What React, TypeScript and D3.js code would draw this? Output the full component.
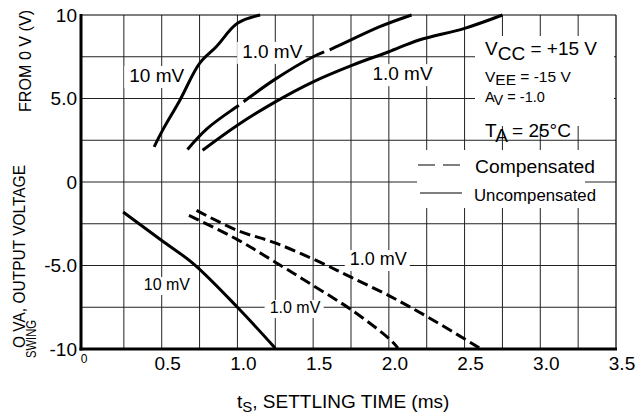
import React, { useEffect, useRef } from "react";
import * as d3 from "d3";

const W = 642;
const H = 415;
const FONT = "'Liberation Sans', Arial, Helvetica, sans-serif";

// axis ticks
const xTicks = [0.5, 1.0, 1.5, 2.0, 2.5, 3.0, 3.5];
const xTickLabels = ["0.5", "1.0", "1.5", "2.0", "2.5", "3.0", "3.5"];
const yTicks = [10, 5, 0, -5, -10];
const yTickLabels = ["10", "5.0", "0", "-5.0", "-10"];

// settling time (ms) vs output swing (V)
const up10mV_t = [0.45, 0.5, 0.62, 0.75, 0.86, 1.0, 1.15];
const up10mV_v = [2.1, 3.0, 4.9, 7.1, 8.1, 9.5, 10.0];

const upComp1mV_t = [0.67, 0.8, 1.02, 1.24, 1.5, 1.63, 1.94, 2.15];
const upComp1mV_v = [1.95, 3.2, 4.67, 6.1, 7.5, 8.0, 9.3, 10.0];

const upUncomp1mV_t = [0.77, 1.0, 1.25, 1.5, 1.76, 2.0, 2.2, 2.5, 2.75];
const upUncomp1mV_v = [1.9, 3.4, 4.8, 6.0, 7.0, 7.8, 8.5, 9.2, 10.0];

const lo10mV_t = [0.245, 0.5, 0.71, 1.0, 1.25];
const lo10mV_v = [-1.8, -3.5, -4.9, -7.5, -9.95];

const loCompA_t = [0.73, 1.0, 1.25, 1.545, 1.75, 2.0, 2.26, 2.6];
const loCompA_v = [-1.7, -2.9, -3.65, -4.8, -5.7, -6.8, -8.1, -9.95];

const loCompB_t = [0.68, 1.0, 1.25, 1.5, 1.76, 2.01, 2.06];
const loCompB_v = [-2.0, -3.45, -4.8, -6.2, -7.7, -9.45, -9.95];

const seriesNames = ["up10mV", "upComp1mV", "upUncomp1mV", "lo10mV", "loCompA", "loCompB"];
const seriesT = [up10mV_t, upComp1mV_t, upUncomp1mV_t, lo10mV_t, loCompA_t, loCompB_t];
const seriesV = [up10mV_v, upComp1mV_v, upUncomp1mV_v, lo10mV_v, loCompA_v, loCompB_v];
const seriesKind = ["solid", "long", "solid", "solid", "short", "short"];

// curve labels (data coords of text centre / baseline)
const labelText = ["10 mV", "1.0 mV", "1.0 mV", "1.0 mV", "1.0 mV", "10 mV"];
const labelT = [0.467, 1.23, 2.09, 1.93, 1.38, 0.534];
const labelV = [5.99, 7.43, 6.1, -4.97, -7.84, -6.47];
const labelSize = [19, 19, 19, 18, 16, 16];

export default function App() {
  const ref = useRef<SVGSVGElement | null>(null);

  useEffect(() => {
    const svg = d3.select(ref.current);
    svg.selectAll("*").remove();

    const x = d3.scaleLinear().domain([0, 3.5]).range([86, 616]);
    const y = d3.scaleLinear().domain([-10, 10]).range([349, 15]);
    const L = 81, R = 616, T = 15, B = 349;

    const gGrid = svg.append("g");
    const gBoxes = svg.append("g");
    const gCurves = svg.append("g");
    const gAxes = svg.append("g");
    const gText = svg.append("g").attr("font-family", FONT).attr("fill", "#000");

    // grid
    d3.range(0.25, 3.5, 0.25).forEach((v) => {
      gGrid.append("line").attr("x1", x(v)).attr("x2", x(v)).attr("y1", T).attr("y2", B)
        .attr("stroke", "#222").attr("stroke-width", 1);
    });
    d3.range(-7.5, 10, 2.5).forEach((v) => {
      gGrid.append("line").attr("x1", L).attr("x2", R).attr("y1", y(v)).attr("y2", y(v))
        .attr("stroke", "#222").attr("stroke-width", 1);
    });
    gGrid.append("line").attr("x1", L).attr("x2", R).attr("y1", y(10)).attr("y2", y(10))
      .attr("stroke", "#000").attr("stroke-width", 1.2);
    gGrid.append("line").attr("x1", x(3.5)).attr("x2", x(3.5)).attr("y1", T).attr("y2", B)
      .attr("stroke", "#000").attr("stroke-width", 1.2);

    // white boxes for annotation and legend
    gBoxes.append("rect").attr("x", 475).attr("y", 36).attr("width", 139).attr("height", 90).attr("fill", "#fff");
    gBoxes.append("rect").attr("x", 417).attr("y", 150).attr("width", 168).attr("height", 58).attr("fill", "#fff");

    // curves
    const line = d3.line<[number, number]>()
      .x((d) => x(d[0])).y((d) => y(d[1]))
      .curve(d3.curveCatmullRom.alpha(0.5));
    seriesNames.forEach((name, i) => {
      const pts: [number, number][] = seriesT[i].map((t, j) => [t, seriesV[i][j]]);
      const p = gCurves.append("path").attr("d", line(pts) as string)
        .attr("fill", "none").attr("stroke", "#000").attr("stroke-width", 3)
        .attr("stroke-linejoin", "round").attr("data-name", name);
      if (seriesKind[i] === "long") p.attr("stroke-dasharray", "95 6").attr("stroke-dashoffset", 27);
      if (seriesKind[i] === "short") p.attr("stroke-dasharray", "11 5");
    });

    // axes
    gAxes.append("line").attr("x1", L).attr("x2", L).attr("y1", T - 1).attr("y2", B + 1.5)
      .attr("stroke", "#000").attr("stroke-width", 3);
    gAxes.append("line").attr("x1", L - 1.5).attr("x2", R + 1).attr("y1", B).attr("y2", B)
      .attr("stroke", "#000").attr("stroke-width", 3);

    // tick labels
    xTicks.forEach((v, i) => {
      gText.append("text").attr("x", x(v) + 6).attr("y", 370).attr("text-anchor", "middle")
        .attr("font-size", 19).text(xTickLabels[i]);
    });
    gText.append("text").attr("x", x(0) - 2).attr("y", 363).attr("text-anchor", "middle")
      .attr("font-size", 12).text("0");
    yTicks.forEach((v, i) => {
      gText.append("text").attr("x", 77).attr("y", y(v)).attr("dy", "0.35em")
        .attr("text-anchor", "end").attr("font-size", 19).text(yTickLabels[i]);
    });

    // axis titles
    const xt = gText.append("text").attr("x", 237).attr("y", 408).attr("font-size", 19);
    xt.append("tspan").text("t");
    xt.append("tspan").attr("font-size", 15).attr("dy", 4).text("S");
    xt.append("tspan").attr("dy", -4).text(", SETTLING TIME (ms)");

    gText.append("text").attr("transform", "translate(31,112) rotate(-90)").attr("font-size", 16)
      .attr("textLength", 102).attr("lengthAdjust", "spacingAndGlyphs").text("FROM 0 V (V)");
    gText.append("text").attr("transform", "translate(25,348) rotate(-90)").attr("font-size", 16)
      .attr("textLength", 183).attr("lengthAdjust", "spacingAndGlyphs").text("O VA, OUTPUT VOLTAGE");
    gText.append("text").attr("transform", "translate(36,358) rotate(-90)").attr("font-size", 15)
      .attr("textLength", 38).attr("lengthAdjust", "spacingAndGlyphs").text("SWING");

    // curve labels with white boxes
    labelText.forEach((s, i) => {
      const t = gText.append("text").attr("x", x(labelT[i])).attr("y", y(labelV[i]))
        .attr("text-anchor", "middle").attr("font-size", labelSize[i]).text(s);
      const bb = (t.node() as SVGTextElement).getBBox();
      gBoxes.append("rect").attr("x", bb.x - 5).attr("y", bb.y + 1).attr("width", bb.width + 8)
        .attr("height", bb.height + 1).attr("fill", "#fff");
    });

    // conditions
    const a1 = gText.append("text").attr("x", 485).attr("y", 55).attr("font-size", 19);
    a1.append("tspan").text("V");
    a1.append("tspan").attr("dy", 5).text("CC");
    a1.append("tspan").attr("dy", -5).text(" = +15 V");
    const a2 = gText.append("text").attr("x", 485).attr("y", 82).attr("font-size", 15.5);
    a2.append("tspan").text("V");
    a2.append("tspan").attr("dy", 3).text("EE");
    a2.append("tspan").attr("dy", -3).text(" = -15 V");
    const a3 = gText.append("text").attr("x", 485).attr("y", 102).attr("font-size", 14.5);
    a3.append("tspan").text("A");
    a3.append("tspan").attr("dy", 3).text("V");
    a3.append("tspan").attr("dy", -3).text(" = -1.0");
    const a4 = gText.append("text").attr("x", 485).attr("y", 137).attr("font-size", 19);
    a4.append("tspan").text("T");
    a4.append("tspan").attr("dy", 5).text("A");
    a4.append("tspan").attr("dy", -5).text(" = 25°C");

    // legend
    gText.append("line").attr("x1", 418).attr("x2", 460).attr("y1", 165).attr("y2", 165)
      .attr("stroke", "#000").attr("stroke-width", 1.2).attr("stroke-dasharray", "17 8");
    gText.append("line").attr("x1", 420).attr("x2", 462).attr("y1", 193).attr("y2", 193)
      .attr("stroke", "#000").attr("stroke-width", 1.2);
    gText.append("text").attr("x", 475).attr("y", 173).attr("font-size", 18)
      .attr("textLength", 120).attr("lengthAdjust", "spacingAndGlyphs").text("Compensated");
    gText.append("text").attr("x", 474).attr("y", 201).attr("font-size", 17)
      .attr("textLength", 122).attr("lengthAdjust", "spacingAndGlyphs").text("Uncompensated");
  }, []);

  return (
    <svg
      ref={ref}
      width={W}
      height={H}
      viewBox={`0 0 ${W} ${H}`}
      style={{ position: "absolute", left: 0, top: 0, background: "#fff" }}
    />
  );
}
